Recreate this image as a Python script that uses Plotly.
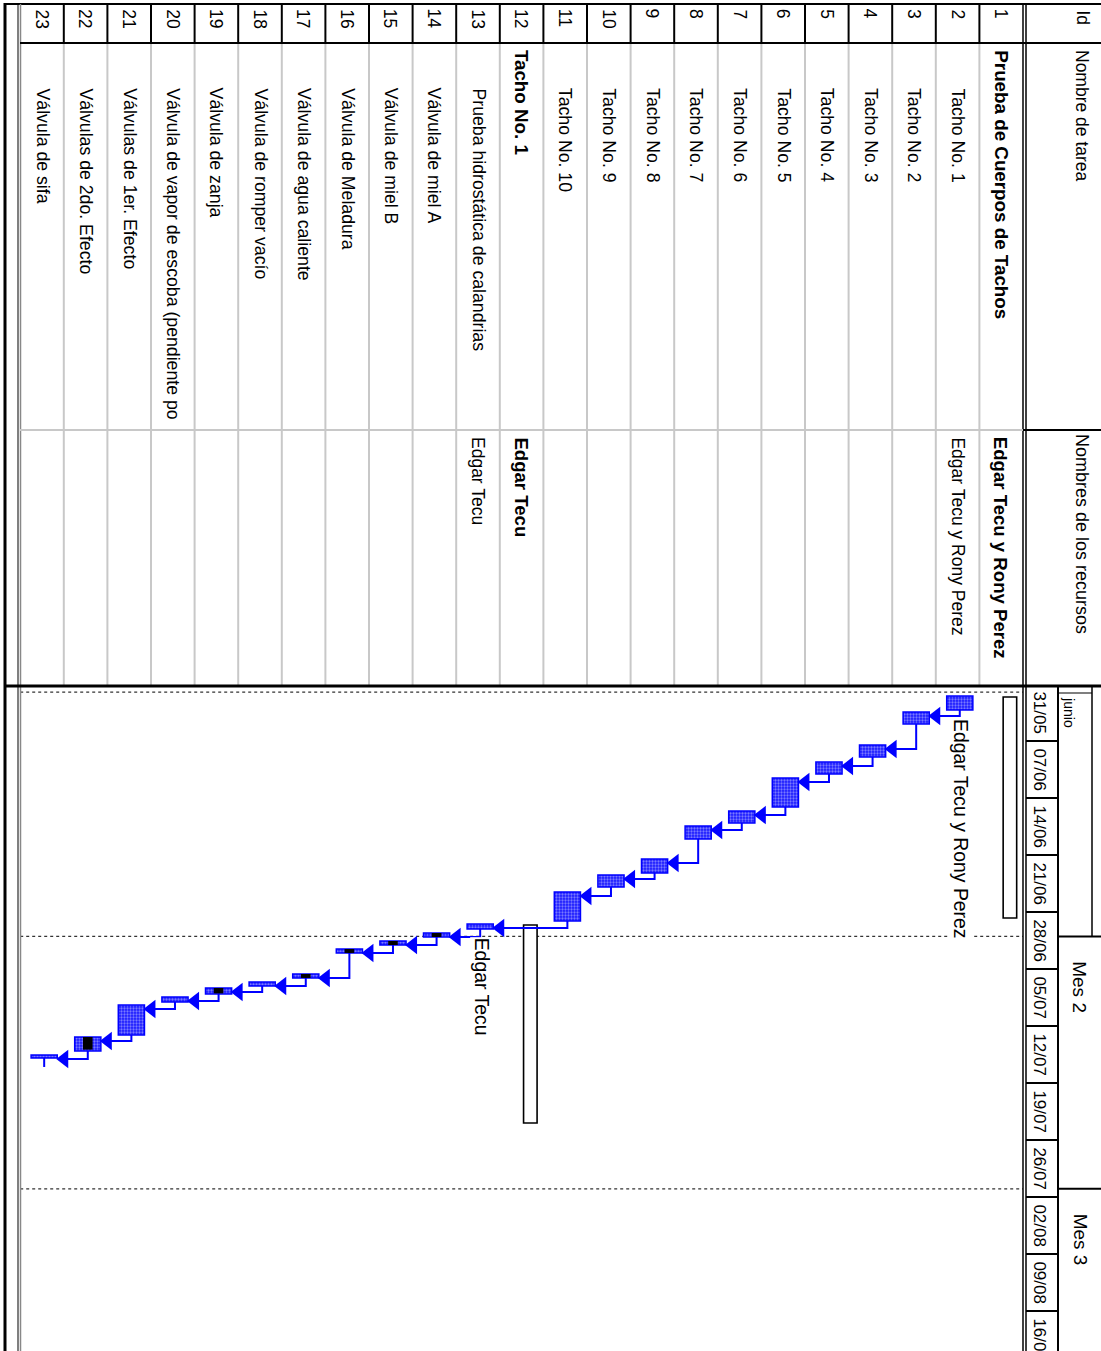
import plotly.graph_objects as go

# ---------------- data ----------------
row_ids = list(range(1, 24))
task_names = [
    "Prueba de Cuerpos de Tachos", "Tacho No. 1", "Tacho No. 2", "Tacho No. 3", "Tacho No. 4",
    "Tacho No. 5", "Tacho No. 6", "Tacho No. 7", "Tacho No. 8", "Tacho No. 9", "Tacho No. 10",
    "Tacho No. 1", "Prueba hidrostática de calandrias", "Válvula de miel A", "Válvula de miel B",
    "Válvula de Meladura", "Válvula de agua caliente", "Válvula de romper vacío", "Válvula de zanja",
    "Válvula de vapor de escoba (pendiente po", "Válvulas de 1er. Efecto", "Válvulas de 2do. Efecto",
    "Válvula de sifa",
]
summary_ids = [1, 12]
resource_ids = [1, 2, 12, 13]
resource_names = ["Edgar Tecu y Rony Perez", "Edgar Tecu y Rony Perez", "Edgar Tecu", "Edgar Tecu"]

# timescale (days counted from 31/05)
week_days = [0, 7, 14, 21, 28, 35, 42, 49, 56, 63, 70, 77]
week_labels = ["31/05", "07/06", "14/06", "21/06", "28/06", "05/07", "12/07",
               "19/07", "26/07", "02/08", "09/08", "16/08"]
month_days = [1, 31, 62]
month_labels = ["junio", "Mes 2", "Mes 3"]

summary_start = [1.60, 29.60]
summary_finish = [28.74, 53.91]

task_ids = [2, 3, 4, 5, 6, 7, 8, 9, 10, 11, 13, 14, 15, 16, 17, 18, 19, 20, 21, 22, 23]
task_start = [1.47, 3.44, 7.49, 9.58, 11.54, 15.60, 17.44, 21.49, 23.46, 25.54,
              29.47, 30.58, 31.56, 32.54, 35.61, 36.60, 37.33, 38.44, 39.42, 43.35, 45.56]
task_finish = [3.19, 4.91, 8.96, 11.05, 15.10, 17.07, 19.03, 23.21, 24.93, 29.10,
               30.09, 31.07, 32.05, 33.03, 36.10, 37.09, 38.07, 39.05, 43.10, 45.07, 45.93]
progress_ids = [14, 15, 16, 17, 19, 22]
progress_pct = [100, 100, 100, 100, 90, 90]

link_pred = [2, 3, 4, 5, 6, 7, 8, 9, 10, 11, 13, 14, 15, 16, 17, 18, 19, 20, 21, 22]
link_succ = [3, 4, 5, 6, 7, 8, 9, 10, 11, 13, 14, 15, 16, 17, 18, 19, 20, 21, 22, 23]
open_link_from = [23]

label_ids = [2, 13]
label_texts = ["Edgar Tecu y Rony Perez", "Edgar Tecu"]

# ---------------- geometry ----------------
W, H = 1101, 1351
ROW_PX = 43.6
X0 = 1044.8          # pixel of row coordinate 0
Y0 = 684.0           # pixel of day 0
DAY_PX = 8.143
CHART_TOP = 686

def px_x(px):
    return (X0 - px) / ROW_PX

def py_paper(py):
    return 1 - py / H

SANS = "Liberation Sans, Arial, sans-serif"
BLUE = "#0000ff"

fig = go.Figure()

start_of = dict(zip(task_ids, task_start))
finish_of = dict(zip(task_ids, task_finish))

# summary bars
fig.add_trace(go.Bar(
    x=summary_ids, base=summary_start,
    y=[f - s for s, f in zip(summary_start, summary_finish)],
    width=0.31, offset=-0.355,
    marker=dict(color="white", line=dict(color="black", width=1.6)),
    hoverinfo="skip", showlegend=False))

# task bars
fig.add_trace(go.Bar(
    x=task_ids, base=task_start,
    y=[f - s for s, f in zip(task_start, task_finish)],
    width=0.6, offset=-0.35,
    marker=dict(color=BLUE, line=dict(color=BLUE, width=1.5),
                pattern=dict(shape=".", fgcolor="#d8d8ff", bgcolor="#1a1aff", size=3, solidity=0.45)),
    hoverinfo="skip", showlegend=False))

# progress bars
fig.add_trace(go.Bar(
    x=progress_ids, base=[start_of[i] for i in progress_ids],
    y=[(finish_of[i] - start_of[i]) * p / 100 for i, p in zip(progress_ids, progress_pct)],
    width=0.22, offset=-0.16,
    marker=dict(color="black", line=dict(width=0)),
    hoverinfo="skip", showlegend=False))

# links
lx, ly, ax, ay = [], [], [], []
for p, s in zip(link_pred, link_succ):
    cx = p - 0.05
    ya = start_of[s] + 0.5
    xa = s - 0.51
    lx += [cx, cx, xa, None]
    ly += [finish_of[p], ya, ya, None]
    ax.append(xa)
    ay.append(ya)
for p in open_link_from:
    lx += [p - 0.05, p - 0.05, None]
    ly += [finish_of[p], finish_of[p] + 1.1, None]
fig.add_trace(go.Scatter(x=lx, y=ly, mode="lines", line=dict(color=BLUE, width=2),
                         hoverinfo="skip", showlegend=False))
fig.add_trace(go.Scatter(x=ax, y=ay, mode="markers",
                         marker=dict(symbol="triangle-left", size=16, color=BLUE, line=dict(width=0)),
                         hoverinfo="skip", showlegend=False))

# ---------------- structure ----------------
shapes = []

def line(x0, y0, x1, y1, color="black", width=1, dash=None, xref="paper", yref="paper", layer="above"):
    d = dict(type="line", x0=x0, y0=y0, x1=x1, y1=y1, xref=xref, yref=yref, layer=layer,
             line=dict(color=color, width=width))
    if dash:
        d["line"]["dash"] = dash
    shapes.append(d)

def hline_px(py, px0, px1, **kw):
    line(px_x(px0), py_paper(py), px_x(px1), py_paper(py), xref="x", **kw)

def vline_px(px, py0, py1, **kw):
    line(px_x(px), py_paper(py0), px_x(px), py_paper(py1), xref="x", **kw)

# dotted month gridlines in chart
for d in month_days:
    line(23.5, d, 0.5, d, color="#333333", width=1.2, dash="dot", xref="x", yref="y", layer="below")

# row separators in table
for k in range(1, 23):
    line(k + 0.5, py_paper(43), k + 0.5, py_paper(CHART_TOP), color="#c8c8c8", width=2, xref="x")
    line(k + 0.5, py_paper(4), k + 0.5, py_paper(43), color="black", width=2, xref="x")

# outer borders
vline_px(5, 3, H, width=3)
hline_px(4, 5, W, width=2)
vline_px(18, 4, H, width=1)
vline_px(20.5, 4, H, color="#888888", width=1.5)
# header column borders
vline_px(1023, 4, H, width=1.5)
vline_px(1026, 4, H, width=1.5)
hline_px(43, 20, W, width=2)
hline_px(430, 20, 1023, color="#c8c8c8", width=2)
hline_px(430, 1023, W, width=2)
hline_px(CHART_TOP, 5, W, width=3)

# timescale tiers
vline_px(1058, CHART_TOP, H, width=2)
for d in week_days[1:]:
    yy = Y0 + d * DAY_PX
    hline_px(yy, 1026, 1058, width=2)
vline_px(1092, CHART_TOP, Y0 + month_days[1] * DAY_PX, width=1.5)
hline_px(693, 1058, 1092, width=1.2)
for d in month_days[1:]:
    hline_px(Y0 + d * DAY_PX, 1058, W, width=2)

# ---------------- text ----------------
ann = []

def vtext(x, y, text, size, family=SANS, xref="x", yref="paper", xanchor="center",
          yanchor="top", bg=None):
    a = dict(x=x, y=y, xref=xref, yref=yref, text=text, textangle=90, showarrow=False,
             xanchor=xanchor, yanchor=yanchor, font=dict(family=family, size=size, color="black"))
    if bg:
        a["bgcolor"] = bg
        a["borderpad"] = 0
    ann.append(a)

# column headers
vtext(px_x(1082), py_paper(8), "Id", 17.5)
vtext(px_x(1082), py_paper(48), "Nombre de tarea", 17.5)
vtext(px_x(1082), py_paper(432), "Nombres de los recursos", 18)

for k, name in zip(row_ids, task_names):
    vtext(k, py_paper(7), str(k), 17.5)
    if k in summary_ids:
        vtext(k, py_paper(48), "<b>" + name + "</b>", 18.8)
    else:
        vtext(k, py_paper(86), name, 17.7)

for k, r in zip(resource_ids, resource_names):
    if k in summary_ids:
        vtext(k, py_paper(435), "<b>" + r + "</b>", 18.6)
    else:
        vtext(k, py_paper(435), r, 17.5)

# week labels
for d, lab in zip(week_days, week_labels):
    vtext(px_x(1040), d + 0.6, lab, 17, yref="y")

# month labels
vtext(px_x(1069), month_days[0] + 0.3, month_labels[0], 14, yref="y")
for d, lab in zip(month_days[1:], month_labels[1:]):
    vtext(px_x(1080), d + 2.8, lab, 19, yref="y")

# resource labels on chart
for k, t in zip(label_ids, label_texts):
    vtext(k - 0.08, finish_of[k] + 1.0, t, 19.4, yref="y", bg="white")

fig.update_layout(
    width=W, height=H, autosize=False,
    margin=dict(l=0, r=0, t=0, b=0, pad=0),
    paper_bgcolor="white", plot_bgcolor="white",
    barmode="overlay", showlegend=False,
    xaxis=dict(range=[px_x(0), px_x(W)], visible=False, fixedrange=True),
    yaxis=dict(range=[(H - Y0) / DAY_PX, (CHART_TOP - Y0) / DAY_PX], domain=[0, py_paper(CHART_TOP)],
               visible=False, fixedrange=True),
    shapes=shapes, annotations=ann,
)

fig.write_html("out.html", config={"displayModeBar": False})
